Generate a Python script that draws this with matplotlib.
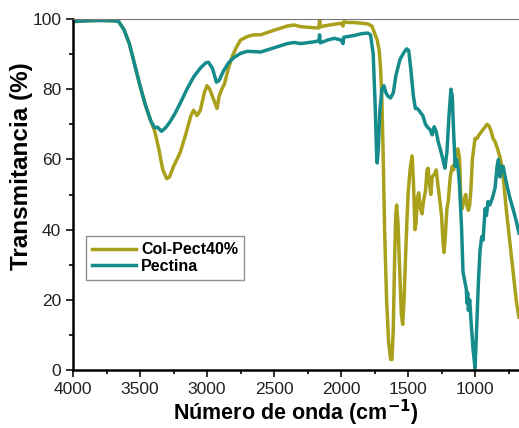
import matplotlib.pyplot as plt

plt.rcParams['font.family'] = ['Liberation Sans', 'DejaVu Sans']

# Col-Pect40% spectrum (wavenumber, transmittance)
colpect_w = [4000, 3900, 3800, 3700, 3660, 3620, 3580, 3540, 3500, 3460, 3420, 3390,
             3360, 3330, 3300, 3280, 3250, 3200, 3160, 3120, 3100, 3075, 3050, 3020,
             3000, 2980, 2950, 2925, 2910, 2890, 2870, 2840, 2810, 2780, 2750, 2700,
             2650, 2600, 2500, 2400, 2350, 2300, 2200, 2165, 2160, 2155, 2100, 2050,
             2000, 1985, 1980, 1950, 1900, 1850, 1800, 1770, 1750, 1730, 1715, 1705,
             1695, 1685, 1675, 1660, 1645, 1630, 1620, 1610, 1600, 1592, 1585, 1575,
             1562, 1550, 1540, 1530, 1515, 1500, 1485, 1470, 1460, 1448, 1440, 1430,
             1420, 1408, 1396, 1385, 1370, 1358, 1350, 1340, 1330, 1320, 1300, 1290,
             1275, 1262, 1250, 1240, 1232, 1222, 1210, 1200, 1185, 1170, 1160, 1150,
             1140, 1128, 1115, 1105, 1095, 1085, 1070, 1060, 1050, 1040, 1030, 1020,
             1010, 1000, 985, 970, 950, 930, 910, 895, 880, 866, 850, 828, 810, 800,
             785, 765, 745, 725, 705, 690, 672]
colpect_t = [99.2, 99.5, 99.6, 99.5, 99.3, 97, 93, 87, 81, 75.5, 71, 68,
             63, 57, 54.5, 55, 58, 62, 67, 72.5, 74, 72.5, 74, 79,
             81, 80, 77, 74.5, 78, 80, 81.5, 86, 89.5, 92, 94, 95,
             95.5, 95.5, 96.8, 98, 98.3, 97.8, 97.5, 97.5, 99.8, 97.8, 98.2, 98.5,
             98.8, 98.0, 99.2, 99, 99, 98.8, 98.6, 98, 96, 94, 91, 86,
             77, 60, 40, 20, 8, 3, 3, 12, 32, 44, 47, 42,
             28, 16, 13, 20, 36, 50, 57, 61, 54, 40, 42, 49,
             50.5, 46, 44.5, 48, 51, 57, 57.5, 53, 50, 55, 56, 57,
             52, 48, 44, 37, 33.5, 38, 46, 48, 55, 58, 57, 60,
             62, 63, 60, 47, 46, 48, 50, 47, 45.5, 47, 52, 60,
             63, 66, 66, 67, 68, 69, 70, 69.5, 68, 66, 65, 62.5, 60, 58,
             53, 45, 38, 31, 24, 19, 15]

# Pectina spectrum
pectina_w = [4000, 3900, 3800, 3700, 3660, 3620, 3580, 3540, 3500, 3460, 3420, 3390,
             3370, 3340, 3310, 3280, 3240, 3200, 3150, 3100, 3050, 3010, 2990, 2960,
             2930, 2910, 2880, 2840, 2800, 2750, 2700, 2600, 2500, 2400, 2350, 2300,
             2200, 2165, 2160, 2155, 2100, 2050, 2000, 1985, 1980, 1950, 1900, 1850,
             1800, 1780, 1760, 1745, 1735, 1730, 1722, 1710, 1695, 1680, 1665, 1650,
             1630, 1610, 1590, 1560, 1530, 1510, 1495, 1480, 1460, 1445, 1430, 1410,
             1390, 1370, 1350, 1335, 1320, 1305, 1290, 1275, 1260, 1240, 1225, 1210,
             1195, 1180, 1170, 1160, 1148, 1138, 1125, 1115, 1100, 1090, 1075, 1065,
             1060, 1055, 1050, 1040, 1030, 1015, 1000, 990, 975, 963, 950, 940,
             925, 915, 903, 890, 870, 850, 836, 825, 815, 800, 790, 770, 740, 710,
             690, 672]
pectina_t = [99.3, 99.5, 99.6, 99.5, 99.3, 97, 93, 87, 81, 75.5, 71, 69,
             69.2, 68, 69, 70.5, 73, 76, 80, 83.5, 86, 87.5, 87.7, 86,
             82, 82.5, 85, 87.5, 89, 90.2, 90.8, 90.6, 91.8, 93, 93.3, 93,
             93.5, 93.8, 95.5, 93.2, 94, 94.5, 94, 93, 94.8, 95, 95.3, 95.8,
             96, 95.5, 90, 75, 62, 59, 63, 74, 80, 81, 79, 78,
             77.5, 79, 84, 88.5, 90.5, 91.5, 91, 86, 78, 74.5, 74.5, 73.5,
             72.5, 70, 69, 68.5, 67, 69.3, 68, 65, 63, 60, 57.5, 62,
             72, 80, 78, 68, 58, 60, 57, 52, 40, 28, 25, 23,
             19, 22, 17, 20, 14, 6, 0.5, 10, 25, 34, 38, 37,
             46, 44, 48, 47, 49, 52, 58, 60, 55, 58, 58, 54, 49, 45,
             42, 39]

fig = plt.figure(figsize=(5.19, 4.28), dpi=100)
ax = fig.add_axes([0.1407, 0.1355, 0.8593, 0.8201])

ax.plot(colpect_w, colpect_t, color='#a9a11c', lw=2.5, label='Col-Pect40%',
        solid_joinstyle='round')
ax.plot(pectina_w, pectina_t, color='#168b8b', lw=2.5, label='Pectina',
        solid_joinstyle='round')

ax.set_xlim(4000, 672)
ax.set_ylim(0, 100)
ax.set_xticks([4000, 3500, 3000, 2500, 2000, 1500, 1000])
ax.set_xticks([3750, 3250, 2750, 2250, 1750, 1250, 750], minor=True)
ax.set_yticks([0, 20, 40, 60, 80, 100])
ax.set_yticks([10, 30, 50, 70, 90], minor=True)
ax.tick_params(which='major', direction='out', length=5, width=1.3, labelsize=12.5,
               colors='#222222')
ax.tick_params(which='minor', direction='out', length=3, width=1.2)

ax.spines['right'].set_visible(False)
ax.spines['top'].set_color('#777777')
ax.spines['left'].set_linewidth(1.8)
ax.spines['bottom'].set_linewidth(1.8)

ax.set_xlabel('Número de onda (cm$^{\\mathbf{-1}}$)', fontsize=15.5, fontweight='bold',
              labelpad=1)
ax.set_ylabel('Transmitancia (%)', fontsize=17.5, fontweight='bold')
ax.yaxis.set_label_coords(-0.09, 0.58)

leg = ax.legend(loc='lower left', bbox_to_anchor=(0.029, 0.256), fancybox=False,
                prop={'weight': 'bold', 'size': 11.5}, handlelength=2.75,
                borderpad=0.4, labelspacing=0.1, handletextpad=0.3,
                borderaxespad=0)
leg.get_frame().set_edgecolor('#777777')
leg.get_frame().set_linewidth(1.0)

plt.savefig('out.png', dpi=100)
